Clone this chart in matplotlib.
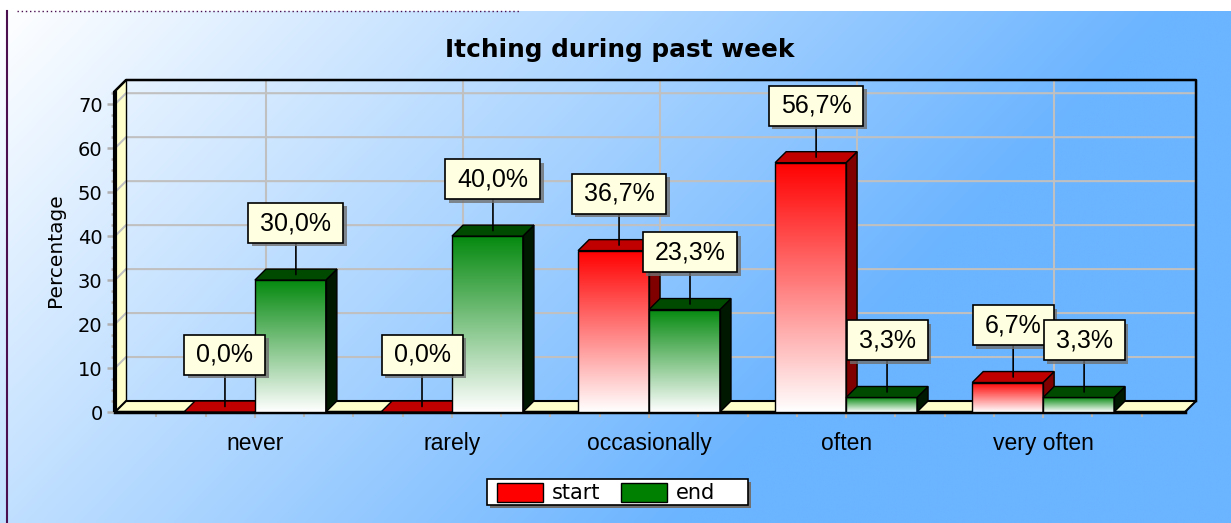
"""Itching during past week - 3D style grouped bars."""

import matplotlib
matplotlib.use("Agg")
import matplotlib.pyplot as plt
import matplotlib.patheffects as pe
import numpy as np
from matplotlib.lines import Line2D
from matplotlib.patches import Polygon, Rectangle
from matplotlib.path import Path
from matplotlib.ticker import MultipleLocator

categories = ["never", "rarely", "occasionally", "often", "very often"]
start_pct = [0.0, 0.0, 36.7, 56.7, 6.7]
end_pct = [30.0, 40.0, 23.3, 3.3, 3.3]
series_names = ["start", "end"]
y_ticks = [0, 10, 20, 30, 40, 50, 60, 70]

W, H, DPI = 1231, 523, 100
BAR_W = 0.36
DX, DY = 0.056, 2.5          # depth offset in data units (~11 px each)
X0, X1 = -0.71, 4.72
YMAX = 73

BLUE = np.array([107, 180, 255]) / 255
RED = dict(front=np.array([1.0, 0.0, 0.0]), top="#c00000", side="#800000", legend="#ff0000")
GREEN = dict(front=np.array([0.02, 0.54, 0.06]), top="#004a00", side="#001800", legend="#008000")
LABEL_FONT = ["Liberation Sans Narrow", "Liberation Sans", "DejaVu Sans"]

fig = plt.figure(figsize=(W / DPI, H / DPI), dpi=DPI, facecolor="white")

# background gradient
bg = fig.add_axes([0, 0, 1, (H - 11) / H], zorder=-10)
xx, yy = np.meshgrid(np.linspace(0, 1, 400), np.linspace(0, 1, 200))
t = np.clip(1.05 * xx + 0.42 * yy, 0, 1)[..., None]
bg.imshow((1 - t) + t * BLUE, aspect="auto", interpolation="bilinear")
bg.axis("off")

fig.add_artist(Line2D([17 / W, 520 / W], [1 - 11 / H] * 2, transform=fig.transFigure,
                      color="#4b0f4f", lw=1, ls=(0, (1, 2))))
fig.add_artist(Line2D([7 / W, 7 / W], [0, 1 - 11 / H], transform=fig.transFigure,
                      color="#4b0f4f", lw=1.5))

ax = fig.add_axes([115 / W, 111 / H, 1070 / W, 321 / H])
ax.patch.set_visible(False)
for s in ax.spines.values():
    s.set_visible(False)

# walls, grid and floor
ax.add_patch(Polygon([(X0, 0), (X0 + DX, DY), (X0 + DX, YMAX + DY), (X0, YMAX)],
                     fc="#ffffcc", ec="none", zorder=1, clip_on=False))
for v in y_ticks[1:]:
    ax.plot([X0, X0 + DX, X1 + DX], [v, v + DY, v + DY], color="#c0c0c0", lw=1.5,
            zorder=1.5, clip_on=False)
for i in range(len(categories)):
    ax.plot([i + DX, i + DX], [DY, YMAX + DY], color="#c0c0c0", lw=1.5, zorder=1.5, clip_on=False)
ax.plot([X0, X0 + DX, X1 + DX, X1 + DX], [YMAX, YMAX + DY, YMAX + DY, DY], color="black",
        lw=1.8, zorder=1.6, clip_on=False)
ax.plot([X0 + DX, X0 + DX], [DY, YMAX + DY], color="black", lw=1, zorder=1.6, clip_on=False)
ax.plot([X0, X0], [0, YMAX], color="black", lw=3, zorder=1.7, clip_on=False, solid_capstyle="butt")
ax.add_patch(Polygon([(X0, 0), (X1, 0), (X1 + DX, DY), (X0 + DX, DY)],
                     fc="#ffffcc", ec="black", lw=1.5, zorder=2, clip_on=False))
ax.plot([X0, X1], [0, 0], color="black", lw=2.5, zorder=2.1, clip_on=False)


def bar3d(x0, v, style, z):
    x1 = x0 + BAR_W
    if v > 0:
        g = np.linspace(0, 1, 200)[:, None, None]
        img = (1 - g) * style["front"] + g * 1.0
        ax.imshow(img, extent=(x0, x1, 0, v), aspect="auto", zorder=z, interpolation="bilinear")
        ax.add_patch(Rectangle((x0, 0), BAR_W, v, fill=False, ec="black", lw=1, zorder=z + 0.1))
        ax.add_patch(Polygon([(x1, 0), (x1 + DX, DY), (x1 + DX, v + DY), (x1, v)],
                             fc=style["side"], ec="black", lw=1, zorder=z, clip_on=False))
    ax.add_patch(Polygon([(x0, v), (x1, v), (x1 + DX, v + DY), (x0 + DX, v + DY)],
                         fc=style["top"], ec="black", lw=1, zorder=z + 0.1, clip_on=False))


def box_style(x0, y0, width, height, mutation_size):
    px, py = 0.48 * mutation_size, 0.32 * mutation_size
    return Path([(x0 - px, y0 - py), (x0 + width + px, y0 - py), (x0 + width + px, y0 + height + py),
                 (x0 - px, y0 + height + py), (x0 - px, y0 - py)], closed=True)


def callout(xc, v, z):
    ann = ax.annotate(f"{v:.1f}%".replace(".", ","), xy=(xc + DX / 2, v + DY / 2),
                      xytext=(0, 28.5), textcoords="offset points", ha="center", va="bottom",
                      fontsize=18, family=LABEL_FONT, zorder=z, annotation_clip=False,
                      bbox=dict(boxstyle=box_style, fc="#ffffe1", ec="black", lw=1.2),
                      arrowprops=dict(arrowstyle="-", color="black", lw=1.2, shrinkA=0, shrinkB=0))
    ann.get_bbox_patch().set_path_effects(
        [pe.SimplePatchShadow(offset=(2.5, -2.5), shadow_rgbFace="#707070", alpha=0.8), pe.Normal()])


z = 10
for i, (s, e) in enumerate(zip(start_pct, end_pct)):
    bar3d(i - BAR_W, s, RED, z)
    bar3d(i, e, GREEN, z + 1)
    z += 2
z = 50
for i, (s, e) in enumerate(zip(start_pct, end_pct)):
    callout(i - BAR_W / 2, s, z)
    callout(i + BAR_W / 2, e, z + 1)
    z += 2

ax.set_xlim(X0, X1)
ax.set_ylim(0, YMAX)
ax.set_xticks(range(len(categories)), categories, fontsize=16.5, family=LABEL_FONT[1:])
ax.xaxis.set_minor_locator(MultipleLocator(0.25))
ax.set_yticks(y_ticks, [str(v) for v in y_ticks], fontsize=14)
ax.yaxis.set_minor_locator(MultipleLocator(2.5))
ax.tick_params(axis="y", which="major", length=5.8, width=1.8, color="#b0b0b0", pad=3.2)
ax.tick_params(axis="y", which="minor", length=2.9, width=1.8, color="#b0b0b0")
ax.tick_params(axis="x", which="major", length=4.3, width=1.5, color="#b8b8b8", pad=10)
ax.tick_params(axis="x", which="minor", length=3.6, width=1.5, color="#b8b8b8")
ax.set_ylabel("Percentage", fontsize=14.5)
ax.yaxis.set_label_coords(-0.0467, 0.505)

fig.text(620 / W, 1 - 50 / H, "Itching during past week", ha="center", va="center",
         fontsize=17.8, fontweight="bold")


# legend (pixel layout from the top-left corner)
def fig_rect(x, y, w, h, **kw):
    fig.add_artist(Rectangle((x / W, 1 - (y + h) / H), w / W, h / H, transform=fig.transFigure, **kw))


fig_rect(490, 482, 261, 26, fc="#707070", ec="none")
fig_rect(487, 479, 261, 26, fc="white", ec="black", lw=1.2)
for (px, tx), name, style in zip([(497, 552), (621, 676)], series_names, [RED, GREEN]):
    fig_rect(px, 483, 46, 19, fc=style["legend"], ec="black", lw=1)
    fig.text(tx / W, 1 - 493 / H, name, ha="left", va="center", fontsize=15)

fig.savefig("out.png", dpi=DPI)
